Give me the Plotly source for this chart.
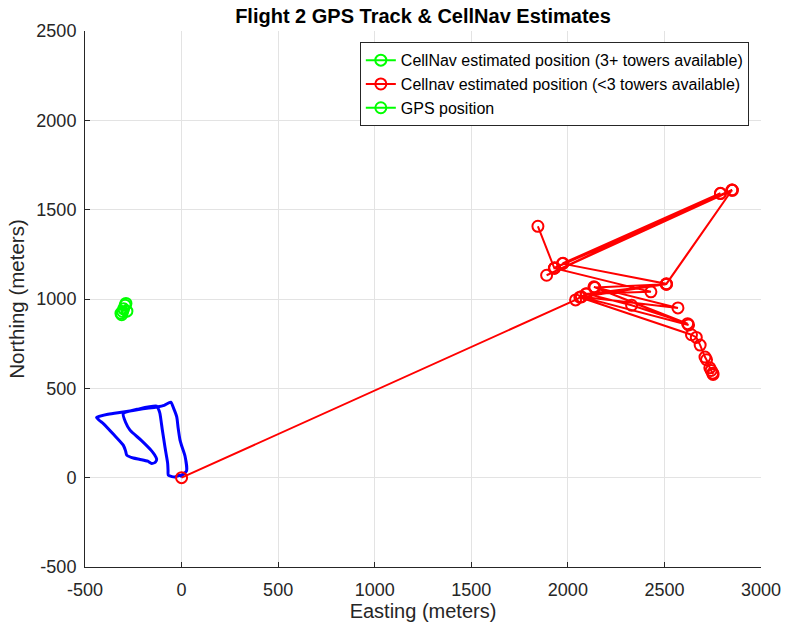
import plotly.graph_objects as go

# GPS flight track (blue)
gps_east = [-8, 10, 26, 18, 0, -8, -18, -25, -40, -56, -90, -129, -200, -302, -380, -440,
            -425, -405, -350, -302, -290, -284, -250, -215, -175, -155, -135, -129, -140,
            -155, -210, -267, -290, -302, -220, -129, -118, -112, -100, -86, -78, -72, -70,
            -69, -50, -34, -15, 0, 15, 26]
gps_north = [4, 20, 38, 120, 180, 210, 280, 340, 385, 422, 405, 396, 385, 367, 355, 337,
             320, 303, 240, 182, 150, 126, 110, 102, 92, 79, 88, 104, 128,
             150, 210, 266, 310, 359, 385, 400, 380, 359, 270, 172, 120, 79, 40,
             14, 6, 4, 12, 14, 25, 38]

# CellNav estimates with 3 or more towers (green)
cn3_east = [-314, -305, -300, -292, -288, -283, -310]
cn3_north = [920, 930, 945, 965, 975, 932, 912]

# CellNav estimates with fewer than 3 towers (red)
cn_east = [0, 2040, 2095, 2510, 2140, 2625, 2070, 2570, 2135, 2620, 2330, 2095, 2430,
           1930, 1845, 1930, 2850, 1975, 2790, 1932, 2852, 1890, 2790, 1972, 2510, 2850,
           2510, 2062, 2640, 2665, 2685, 2710, 2718, 2735, 2742, 2750, 2752]
cn_north = [0, 995, 1028, 1083, 1065, 855, 1012, 950, 1068, 862, 965, 1030, 1040,
            1172, 1407, 1172, 1610, 1200, 1592, 1175, 1608, 1133, 1590, 1198, 1085, 1610,
            1083, 1010, 800, 785, 742, 675, 660, 615, 600, 585, 578]

x_ticks = [-500, 0, 500, 1000, 1500, 2000, 2500, 3000]
y_ticks = [-500, 0, 500, 1000, 1500, 2000, 2500]

GREEN = "#00ff00"
RED = "#ff0000"
BLUE = "#0000ff"
FONT = "Liberation Sans, Arial, sans-serif"

fig = go.Figure()

fig.add_trace(go.Scatter(
    x=gps_east, y=gps_north, mode="lines",
    line=dict(color=BLUE, width=3, shape="spline", smoothing=0.6),
    showlegend=False, hoverinfo="x+y"))

fig.add_trace(go.Scatter(
    x=cn3_east, y=cn3_north, mode="lines+markers",
    name="CellNav estimated position (3+ towers available)",
    line=dict(color=GREEN, width=2),
    marker=dict(symbol="circle-open", size=11, color=GREEN, line=dict(width=2))))

fig.add_trace(go.Scatter(
    x=cn_east, y=cn_north, mode="lines+markers",
    name="Cellnav estimated position (<3 towers available)",
    line=dict(color=RED, width=2),
    marker=dict(symbol="circle-open", size=11, color=RED, line=dict(width=2))))

fig.add_trace(go.Scatter(
    x=[None], y=[None], mode="lines+markers",
    name="GPS position",
    line=dict(color=GREEN, width=2),
    marker=dict(symbol="circle-open", size=11, color=GREEN, line=dict(width=2))))

axis_common = dict(
    showgrid=True, gridcolor="#e3e3e3", gridwidth=1,
    showline=True, linecolor="#262626", linewidth=1, mirror=False,
    ticks="inside", ticklen=5, tickcolor="#262626",
    tickfont=dict(family=FONT, size=18, color="#262626"),
    zeroline=False, fixedrange=True, automargin=False,
)

fig.update_layout(
    width=786, height=628,
    margin=dict(l=85, r=25, t=31, b=61, autoexpand=False),
    paper_bgcolor="white", plot_bgcolor="white",
    title=dict(text="<b>Flight 2 GPS Track & CellNav Estimates</b>",
               x=(85 + 761) / 2 / 786, xanchor="center", y=1 - 16 / 628, yanchor="middle",
               font=dict(family=FONT, size=20, color="black")),
    xaxis=dict(range=[-500, 3000], tickvals=x_ticks, ticktext=[str(v) for v in x_ticks],
               ticklabelstandoff=6,
               title=dict(text="Easting (meters)", font=dict(family=FONT, size=20, color="#262626"),
                          standoff=4),
               **axis_common),
    yaxis=dict(range=[-500, 2500], tickvals=y_ticks, ticktext=[str(v) for v in y_ticks],
               ticklabelstandoff=4,
               title=dict(text="Northing (meters)", font=dict(family=FONT, size=20.5, color="#262626"),
                          standoff=6),
               **axis_common),
    legend=dict(x=0.982, y=0.979, xanchor="right", yanchor="top",
                bgcolor="white", bordercolor="#262626", borderwidth=1,
                font=dict(family=FONT, size=16, color="black")),
    showlegend=True,
)

fig.write_html("out.html")
